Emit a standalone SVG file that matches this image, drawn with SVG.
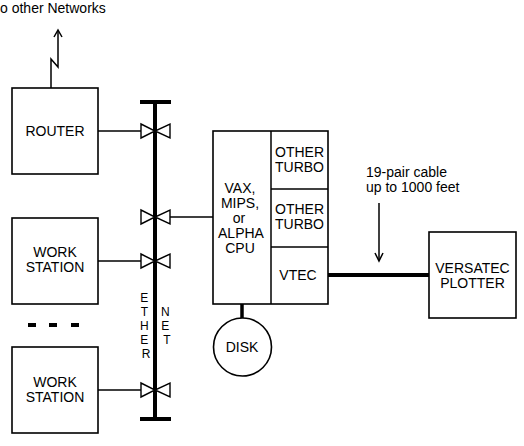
<svg xmlns="http://www.w3.org/2000/svg" width="524" height="446" viewBox="0 0 524 446">
  <style>
    .box { fill: #fff; stroke: #000; stroke-width: 1.6; }
    .thin { fill: none; stroke: #000; stroke-width: 1.5; }
    .thick { fill: none; stroke: #000; stroke-width: 4; }
    .tie { fill: #fff; stroke: #000; stroke-width: 1.4; stroke-linejoin: miter; }
    .lbl { font-family: "Liberation Sans", Arial, sans-serif; font-size: 14px; fill: #000; }
    .bus { font-family: "Liberation Sans", Arial, sans-serif; font-size: 12px; fill: #000; text-anchor: middle; }
    .mid { text-anchor: middle; }
  </style>
  <defs>
    <!-- transceiver tap drawn as a bow tie centred on the bus -->
    <g id="tap">
      <polygon class="tie" points="-14,-7 -14,7 0,0"/>
      <polygon class="tie" points="15,-7 15,7 0,0"/>
    </g>
  </defs>

  <rect width="524" height="446" fill="#fff"/>

  <text class="lbl" x="0" y="13">o other Networks</text>

  <g id="connectors">
    <!-- uplink with break symbol -->
    <polyline class="thin" points="51,88 51,59 58,67 58,31"/>
    <polyline class="thin" points="54,37 58,30 62,37"/>
    <!-- drops to the bus -->
    <line class="thin" x1="98" y1="131" x2="141" y2="131"/>
    <line class="thin" x1="170" y1="217" x2="213" y2="217"/>
    <line class="thin" x1="98" y1="261" x2="141" y2="261"/>
    <line class="thin" x1="98" y1="390" x2="141" y2="390"/>
    <!-- cpu to disk -->
    <line x1="242" y1="304" x2="242" y2="318" stroke="#000" stroke-width="3.5"/>
    <!-- plotter cable -->
    <line class="thick" x1="328" y1="275" x2="429" y2="275"/>
    <line class="thin" x1="379" y1="203" x2="379" y2="260"/>
    <polyline class="thin" points="375,253 379,261 383,253"/>
  </g>

  <g id="ethernet">
    <line class="thick" x1="155" y1="102" x2="155" y2="419"/>
    <line class="thick" x1="140" y1="102" x2="171" y2="102"/>
    <line class="thick" x1="140" y1="419" x2="171" y2="419"/>
    <use href="#tap" x="155" y="131"/>
    <use href="#tap" x="155" y="217"/>
    <use href="#tap" x="155" y="261"/>
    <use href="#tap" x="155" y="390"/>
    <!-- bus name stacked one letter per line -->
    <text class="bus">
      <tspan x="146" y="302">E</tspan>
      <tspan x="146" y="316">T</tspan>
      <tspan x="146" y="330">H</tspan>
      <tspan x="146" y="344">E</tspan>
      <tspan x="146" y="358">R</tspan>
    </text>
    <text class="bus">
      <tspan x="167" y="316">N</tspan>
      <tspan x="167" y="330">E</tspan>
      <tspan x="167" y="344">T</tspan>
    </text>
  </g>

  <g id="router">
    <rect class="box" x="12" y="88" width="86" height="86"/>
    <text class="lbl mid" x="55" y="136">ROUTER</text>
  </g>

  <g id="workstation1">
    <rect class="box" x="12" y="218" width="86" height="86"/>
    <text class="lbl mid" x="55" y="257">WORK</text>
    <text class="lbl mid" x="55" y="272">STATION</text>
  </g>

  <g id="ellipsis">
    <line class="thick" x1="28" y1="325" x2="36" y2="325"/>
    <line class="thick" x1="49" y1="325" x2="57" y2="325"/>
    <line class="thick" x1="71" y1="325" x2="79" y2="325"/>
  </g>

  <g id="workstation2">
    <rect class="box" x="12" y="347" width="86" height="86"/>
    <text class="lbl mid" x="55" y="387">WORK</text>
    <text class="lbl mid" x="55" y="402">STATION</text>
  </g>

  <g id="cpu">
    <rect class="box" x="213" y="131" width="115" height="173"/>
    <line class="thin" x1="271" y1="131" x2="271" y2="304"/>
    <line class="thin" x1="271" y1="189" x2="328" y2="189"/>
    <line class="thin" x1="271" y1="247" x2="328" y2="247"/>
    <g class="lbl mid">
      <text x="240" y="193">VAX,</text>
      <text x="240" y="208">MIPS,</text>
      <text x="239" y="223">or</text>
      <text x="241" y="238">ALPHA</text>
      <text x="240" y="253">CPU</text>
      <text x="299.5" y="157">OTHER</text>
      <text x="299.5" y="172">TURBO</text>
      <text x="299.5" y="214">OTHER</text>
      <text x="299.5" y="229">TURBO</text>
      <text x="298" y="280">VTEC</text>
    </g>
  </g>

  <g id="disk">
    <circle class="box" cx="242.5" cy="347" r="29"/>
    <text class="lbl mid" x="242" y="352">DISK</text>
  </g>

  <g id="plotter">
    <rect class="box" x="429" y="232" width="87" height="86"/>
    <text class="lbl mid" x="472.5" y="273">VERSATEC</text>
    <text class="lbl mid" x="472.5" y="288">PLOTTER</text>
  </g>

  <g id="cable-note" class="lbl">
    <text x="366" y="177">19-pair cable</text>
    <text x="366" y="192">up to 1000 feet</text>
  </g>
</svg>
